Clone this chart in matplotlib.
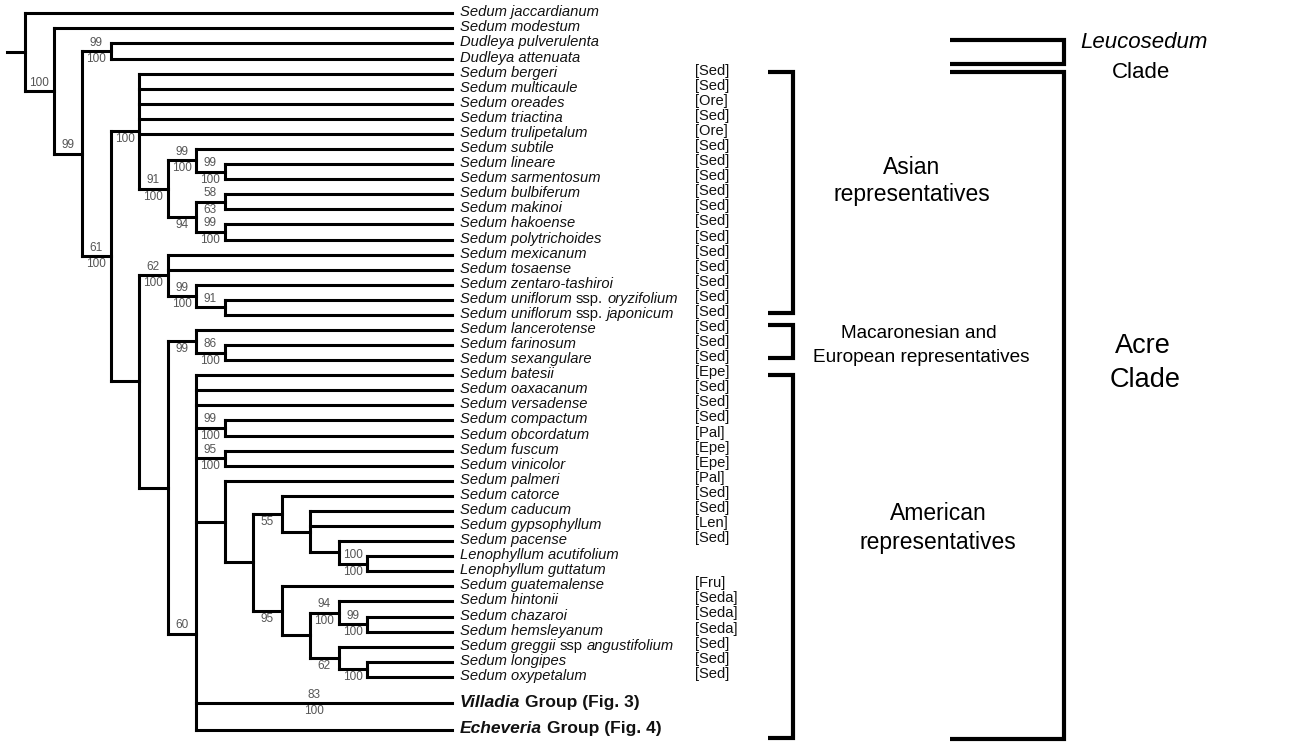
import re
import matplotlib.pyplot as plt
from matplotlib.collections import LineCollection

plt.rcParams['font.family'] = ['Liberation Sans', 'DejaVu Sans']

# tips, top to bottom
taxon_keys = [
    "jaccardianum", "modestum", "pulverulenta", "attenuata", "bergeri", "multicaule",
    "oreades", "triactina", "trulipetalum", "subtile", "lineare", "sarmentosum",
    "bulbiferum", "makinoi", "hakoense", "polytrichoides", "mexicanum", "tosaense",
    "zentaro", "oryzifolium", "japonicum", "lancerotense", "farinosum", "sexangulare",
    "batesii", "oaxacanum", "versadense", "compactum", "obcordatum", "fuscum",
    "vinicolor", "palmeri", "catorce", "caducum", "gypsophyllum", "pacense",
    "acutifolium", "guttatum", "guatemalense", "hintonii", "chazaroi", "hemsleyanum",
    "greggii", "longipes", "oxypetalum", "villadia", "echeveria",
]
# text in {} is set upright
taxon_labels = [
    "Sedum jaccardianum", "Sedum modestum", "Dudleya pulverulenta", "Dudleya attenuata",
    "Sedum bergeri", "Sedum multicaule", "Sedum oreades", "Sedum triactina",
    "Sedum trulipetalum", "Sedum subtile", "Sedum lineare", "Sedum sarmentosum",
    "Sedum bulbiferum", "Sedum makinoi", "Sedum hakoense", "Sedum polytrichoides",
    "Sedum mexicanum", "Sedum tosaense", "Sedum zentaro-tashiroi",
    "Sedum uniflorum {ssp.} oryzifolium", "Sedum uniflorum {ssp.} japonicum",
    "Sedum lancerotense", "Sedum farinosum", "Sedum sexangulare", "Sedum batesii",
    "Sedum oaxacanum", "Sedum versadense", "Sedum compactum", "Sedum obcordatum",
    "Sedum fuscum", "Sedum vinicolor", "Sedum palmeri", "Sedum catorce",
    "Sedum caducum", "Sedum gypsophyllum", "Sedum pacense", "Lenophyllum acutifolium",
    "Lenophyllum guttatum", "Sedum guatemalense", "Sedum hintonii", "Sedum chazaroi",
    "Sedum hemsleyanum", "Sedum greggii {ssp} angustifolium", "Sedum longipes",
    "Sedum oxypetalum", "Villadia Group (Fig. 3)", "Echeveria Group (Fig. 4)",
]
taxon_tags = [
    "", "", "", "", "Sed", "Sed", "Ore", "Sed", "Ore", "Sed", "Sed", "Sed",
    "Sed", "Sed", "Sed", "Sed", "Sed", "Sed", "Sed", "Sed", "Sed", "Sed", "Sed", "Sed",
    "Epe", "Sed", "Sed", "Sed", "Pal", "Epe", "Epe", "Pal", "Sed", "Sed", "Len", "Sed",
    "", "", "Fru", "Seda", "Seda", "Seda", "Sed", "Sed", "Sed", "", "",
]
group_tips = {"villadia": "Villadia", "echeveria": "Echeveria"}

# extra space (in rows) above the two collapsed groups
row_gap = {"villadia": 0.74, "echeveria": 0.78}

# support values written as above|below after each clade
tree_newick = (
    "(jaccardianum,(modestum,((pulverulenta,attenuata)99|100,"
    "((bergeri,multicaule,oreades,triactina,trulipetalum,"
    "((subtile,(lineare,sarmentosum)99|100)99|100,"
    "((bulbiferum,makinoi)58|63,(hakoense,polytrichoides)99|100)|94)91|100)|100,"
    "((mexicanum,tosaense,(zentaro,(oryzifolium,japonicum)91|)99|100)62|100,"
    "((lancerotense,(farinosum,sexangulare)86|100)|99,"
    "(batesii,oaxacanum,versadense,(compactum,obcordatum)99|100,(fuscum,vinicolor)95|100,"
    "(palmeri,((catorce,(caducum,gypsophyllum,(pacense,(acutifolium,guttatum)100|100)))|55,"
    "(guatemalense,((hintonii,(chazaroi,hemsleyanum)99|100)94|100,"
    "(greggii,(longipes,oxypetalum)|100)|62))|95)),"
    "villadia83|100,echeveria)60|#american)))61|100)99|)100|)"
)
# the American node is drawn below the middle of its children
american_row = 41.15

# layout in pixels
W, H = 1309, 742
X0, DX = 25, 28.5
Y0, DY = 13.3, 15.08
TIP_X = 452
LABEL_X = 460
TAG_X = 695
TIP_SUPPORT_DX = 118   # support on a tip branch sits left of the branch middle


def parse_newick(s):
    token = re.compile(r"([a-z]*)(\d*)(?:\|(\d*))?(?:#(\w+))?")
    pos = 0

    def read():
        nonlocal pos
        node = {"children": []}
        if s[pos] == "(":
            pos += 1
            node["children"].append(read())
            while s[pos] == ",":
                pos += 1
                node["children"].append(read())
            pos += 1
        m = token.match(s, pos)
        pos = m.end()
        node["name"] = m.group(1)
        node["up"] = m.group(2)
        node["lo"] = m.group(3) or ""
        node["tag"] = m.group(4)
        return node

    return read()


tree = parse_newick(tree_newick)
next_row = [0.0]


def place(node, depth):
    if not node["children"]:
        next_row[0] += row_gap.get(node["name"], 0)
        node["row"] = next_row[0]
        next_row[0] += 1
        node["x"] = TIP_X
    else:
        for c in node["children"]:
            place(c, depth + 1)
        node["x"] = X0 + DX * depth
        if node["tag"] == "american":
            node["row"] = american_row
        else:
            node["row"] = (node["children"][0]["row"] + node["children"][-1]["row"]) / 2
    node["y"] = Y0 + DY * node["row"]


place(tree, 0)

fig = plt.figure(figsize=(W / 100, H / 100), dpi=100)
ax = fig.add_axes([0, 0, 1, 1])
ax.set_xlim(0, W)
ax.set_ylim(H, 0)
ax.axis("off")

segs = [[(7, tree["y"]), (tree["x"], tree["y"])]]
tips = {}
support_style = dict(fontsize=8.5, color="#555555", ha="center")


def collect(node, parent=None):
    if node["children"]:
        ys = [c["y"] for c in node["children"]]
        segs.append([(node["x"], min(ys)), (node["x"], max(ys))])
        for c in node["children"]:
            segs.append([(node["x"], c["y"]), (c["x"], c["y"])])
            collect(c, node)
    else:
        tips[node["name"]] = node["y"]
    if parent is None:
        return
    if node["children"]:
        xm = (parent["x"] + node["x"]) / 2
    else:
        xm = parent["x"] + TIP_SUPPORT_DX
    if node["up"]:
        ax.text(xm, node["y"] - 2.5, node["up"], va="bottom", **support_style)
    if node["lo"]:
        ax.text(xm, node["y"] + 2, node["lo"], va="top", **support_style)


collect(tree)
ax.add_collection(LineCollection(segs, colors="black", linewidths=2.2,
                                 capstyle="projecting"))


def draw_label(x, y, label, size, weight, italic_base):
    # pieces alternate between base style and toggled style
    pieces = re.split(r"[{}]", label)
    prev = None
    gap = 0
    for i, piece in enumerate(pieces):
        if piece.strip() == "":
            if piece:
                gap = 0.278 * size
            continue
        italic = italic_base if i % 2 == 0 else not italic_base
        style = "italic" if italic else "normal"
        text = piece.strip()
        if prev is None:
            prev = ax.text(x, y, text, fontsize=size, fontstyle=style, fontweight=weight,
                           color="#111111", va="center", ha="left")
        else:
            if piece[0] == " ":
                gap = 0.278 * size
            prev = ax.annotate(text, xy=(1, 0), xycoords=prev, xytext=(gap, 0),
                               textcoords="offset points", fontsize=size, fontstyle=style,
                               fontweight=weight, color="#111111", va="bottom", ha="left")
        gap = 0.278 * size if piece[-1] == " " else 0


for key, label, tag in zip(taxon_keys, taxon_labels, taxon_tags):
    y = tips[key]
    if key in group_tips:
        name = group_tips[key]
        draw_label(LABEL_X, y - 1, "{" + name + "}" + label[len(name):], 12.5, "bold", False)
    else:
        draw_label(LABEL_X, y - 1, label, 10.6, "normal", True)
    if tag:
        ax.text(TAG_X, y - 3, "[" + tag + "]", fontsize=10.6, color="#111111",
                va="center", ha="left")


def bracket(x0, x1, y0, y1, lw=3.0):
    ax.plot([x0, x1, x1, x0], [y0, y0, y1, y1], color="black", lw=lw,
            solid_joinstyle="miter", solid_capstyle="butt")


# clade brackets
bracket(768, 793, 72, 313)
bracket(768, 793, 325, 358)
bracket(768, 793, 375, 738)
bracket(950, 1064, 40, 64)
bracket(950, 1064, 72, 739)

ax.text(912, 167, "Asian", fontsize=16.5, ha="center", va="center")
ax.text(912, 195, "representatives", fontsize=16.5, ha="center", va="center")
ax.text(919, 333, "Macaronesian and", fontsize=13.7, ha="center", va="center")
ax.text(921, 358, "European representatives", fontsize=13.7, ha="center", va="center")
ax.text(938, 513, "American", fontsize=16.5, ha="center", va="center")
ax.text(938, 543, "representatives", fontsize=16.5, ha="center", va="center")
ax.text(1144, 43, "Leucosedum", fontsize=16, fontstyle="italic", ha="center", va="center")
ax.text(1141, 72, "Clade", fontsize=16, ha="center", va="center")
ax.text(1143, 346, "Acre", fontsize=19.5, ha="center", va="center")
ax.text(1145, 380, "Clade", fontsize=19.5, ha="center", va="center")

fig.savefig("out.png", dpi=100)
